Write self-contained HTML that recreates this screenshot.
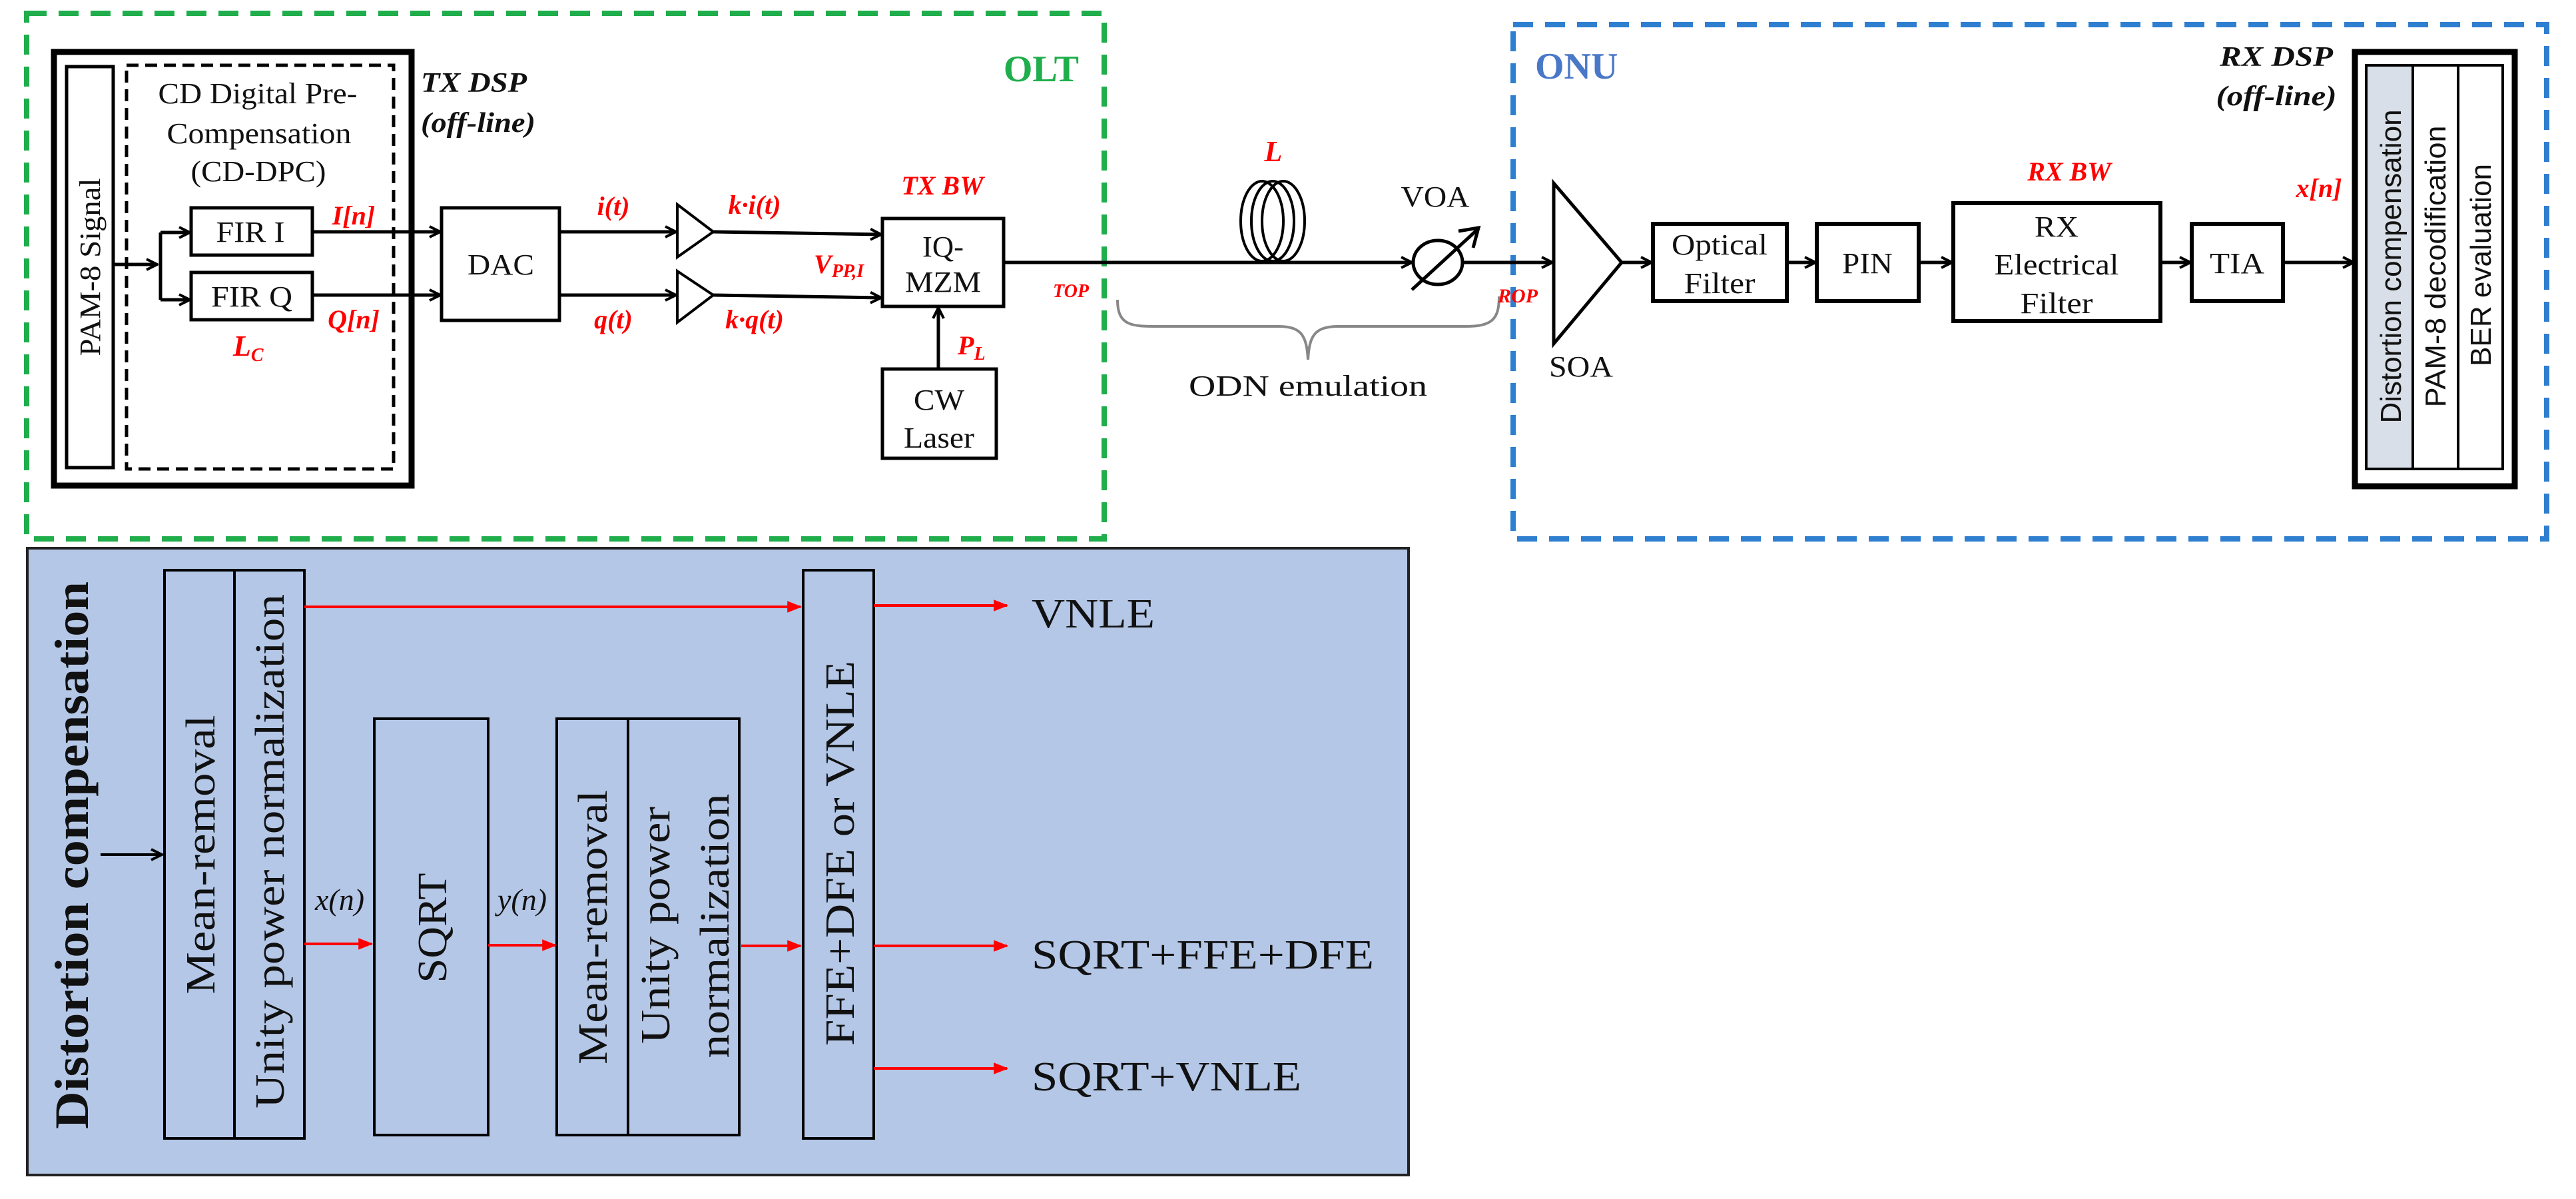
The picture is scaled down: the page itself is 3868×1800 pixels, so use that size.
<!DOCTYPE html>
<html><head><meta charset="utf-8"><style>
html,body{margin:0;padding:0;background:#fff}
svg{display:block}
.sf{font-family:"Liberation Serif",serif}
.ss{font-family:"Liberation Sans",sans-serif}
</style></head><body>
<svg width="3868" height="1800" viewBox="0 0 3868 1800" xmlns="http://www.w3.org/2000/svg">
<defs>
<marker id="ab" viewBox="0 0 20 20" refX="18" refY="10" markerWidth="20" markerHeight="20" markerUnits="userSpaceOnUse" orient="auto"><path d="M2,2 L18,10 L2,18" fill="none" stroke="#000" stroke-width="4"/></marker>
<marker id="ar" viewBox="0 0 20 20" refX="18" refY="10" markerWidth="22" markerHeight="22" markerUnits="userSpaceOnUse" orient="auto"><path d="M0,2 L20,10 L0,18 Z" fill="#f00"/></marker>
</defs>
<rect x="40" y="20" width="1618" height="789" fill="none" stroke="#1fae4b" stroke-width="8" stroke-dasharray="30,18"/>
<text class="sf" x="1620" y="122" font-size="56" font-weight="bold" fill="#1fae4b" text-anchor="end">OLT</text>
<rect x="2272" y="37" width="1552" height="772" fill="none" stroke="#2f7fd0" stroke-width="8" stroke-dasharray="30,18"/>
<text class="sf" x="2305" y="118" font-size="56" font-weight="bold" fill="#4a78c8">ONU</text>

<g stroke="#000" fill="none">
<rect x="81" y="78" width="537" height="651" stroke-width="9"/>
<rect x="100" y="100" width="70" height="602" stroke-width="5"/>
<rect x="190" y="98" width="401" height="606" stroke-width="5" stroke-dasharray="18,10"/>
<rect x="287" y="312" width="182" height="71" stroke-width="5"/>
<rect x="287" y="409" width="182" height="71" stroke-width="5"/>
<rect x="663" y="312" width="177" height="169" stroke-width="5"/>
<rect x="1325" y="328" width="182" height="132" stroke-width="5"/>
<rect x="1325" y="554" width="171" height="134" stroke-width="5"/>
<path d="M1017,307 L1071,348 L1017,386 Z" stroke-width="4"/>
<path d="M1017,407 L1071,443 L1017,484 Z" stroke-width="4"/>
<g stroke-width="5">
<line x1="170" y1="397" x2="236" y2="397" marker-end="url(#ab)"/>
<line x1="241" y1="349" x2="241" y2="450"/>
<line x1="241" y1="349" x2="285" y2="349" marker-end="url(#ab)"/>
<line x1="241" y1="450" x2="285" y2="450" marker-end="url(#ab)"/>
<line x1="469" y1="348" x2="661" y2="348" marker-end="url(#ab)"/>
<line x1="469" y1="443" x2="661" y2="443" marker-end="url(#ab)"/>
<line x1="840" y1="348" x2="1015" y2="348" marker-end="url(#ab)"/>
<line x1="840" y1="443" x2="1015" y2="443" marker-end="url(#ab)"/>
<line x1="1071" y1="348" x2="1323" y2="352" marker-end="url(#ab)"/>
<line x1="1071" y1="443" x2="1323" y2="447" marker-end="url(#ab)"/>
<line x1="1409" y1="554" x2="1409" y2="462" marker-end="url(#ab)"/>
<line x1="1507" y1="394" x2="2120" y2="394" marker-end="url(#ab)"/>
<line x1="2194" y1="394" x2="2331" y2="394" marker-end="url(#ab)"/>
<line x1="2435" y1="394" x2="2480" y2="394" marker-end="url(#ab)"/>
<line x1="2683" y1="394" x2="2726" y2="394" marker-end="url(#ab)"/>
<line x1="2881" y1="394" x2="2931" y2="394" marker-end="url(#ab)"/>
<line x1="3244" y1="394" x2="3289" y2="394" marker-end="url(#ab)"/>
<line x1="3428" y1="394" x2="3534" y2="394" marker-end="url(#ab)"/>
</g>
<g stroke-width="4">
<ellipse cx="1895" cy="332" rx="32" ry="60"/>
<ellipse cx="1911" cy="332" rx="32" ry="60"/>
<ellipse cx="1927" cy="332" rx="32" ry="60"/>
</g>
<ellipse cx="2159" cy="394" rx="37" ry="33" stroke-width="5"/>
<line x1="2120" y1="435" x2="2218" y2="345" stroke-width="5"/>
<path d="M2190,347 L2220,342 L2212,372" stroke-width="5"/>
<path d="M1678,450 C1678,490 1700,490 1740,490 L1920,490 C1955,490 1962,505 1964,540 C1966,505 1973,490 2010,490 L2200,490 C2240,490 2251,480 2251,445" stroke="#888" stroke-width="4"/>
<path d="M2333,275 L2435,394 L2333,516 Z" stroke-width="5"/>
<rect x="2482" y="336" width="201" height="116" stroke-width="6"/>
<rect x="2728" y="336" width="153" height="116" stroke-width="6"/>
<rect x="2933" y="305" width="311" height="177" stroke-width="6"/>
<rect x="3291" y="336" width="137" height="116" stroke-width="6"/>
<rect x="3536" y="78" width="240" height="652" stroke-width="9"/>
<rect x="3553" y="98" width="205" height="606" stroke-width="4"/>
<rect x="3555" y="100" width="68" height="602" fill="#d9dfe8" stroke="none"/>
<line x1="3623" y1="98" x2="3623" y2="704" stroke-width="4"/>
<line x1="3691" y1="98" x2="3691" y2="704" stroke-width="4"/>
</g>

<g font-size="44" fill="#111">
<text class="sf" transform="translate(150,401) rotate(-90)" text-anchor="middle" textLength="267" lengthAdjust="spacingAndGlyphs">PAM-8 Signal</text>
<text class="sf" x="387" y="155" text-anchor="middle" textLength="299" lengthAdjust="spacingAndGlyphs">CD Digital Pre-</text>
<text class="sf" x="389" y="215" text-anchor="middle" textLength="277" lengthAdjust="spacingAndGlyphs">Compensation</text>
<text class="sf" x="388" y="272" text-anchor="middle" textLength="203" lengthAdjust="spacingAndGlyphs">(CD-DPC)</text>
<text class="sf" x="376" y="363" text-anchor="middle" textLength="103" lengthAdjust="spacingAndGlyphs">FIR I</text>
<text class="sf" x="378" y="460" text-anchor="middle" textLength="122" lengthAdjust="spacingAndGlyphs">FIR Q</text>
<text class="sf" x="752" y="412" text-anchor="middle" textLength="100" lengthAdjust="spacingAndGlyphs">DAC</text>
<text class="sf" x="1416" y="385" text-anchor="middle" textLength="62" lengthAdjust="spacingAndGlyphs">IQ-</text>
<text class="sf" x="1416" y="438" text-anchor="middle" textLength="114" lengthAdjust="spacingAndGlyphs">MZM</text>
<text class="sf" x="1410" y="615" text-anchor="middle" textLength="76" lengthAdjust="spacingAndGlyphs">CW</text>
<text class="sf" x="1410" y="672" text-anchor="middle" textLength="106" lengthAdjust="spacingAndGlyphs">Laser</text>
<text class="sf" x="2155" y="310" text-anchor="middle" textLength="103" lengthAdjust="spacingAndGlyphs">VOA</text>
<text class="sf" x="1964" y="594" text-anchor="middle" textLength="358" lengthAdjust="spacingAndGlyphs">ODN emulation</text>
<text class="sf" x="2374" y="565" text-anchor="middle" textLength="96" lengthAdjust="spacingAndGlyphs">SOA</text>
<text class="sf" x="2582" y="382" text-anchor="middle" textLength="144" lengthAdjust="spacingAndGlyphs">Optical</text>
<text class="sf" x="2582" y="440" text-anchor="middle" textLength="107" lengthAdjust="spacingAndGlyphs">Filter</text>
<text class="sf" x="2804" y="410" text-anchor="middle" textLength="76" lengthAdjust="spacingAndGlyphs">PIN</text>
<text class="sf" x="3088" y="355" text-anchor="middle" textLength="66" lengthAdjust="spacingAndGlyphs">RX</text>
<text class="sf" x="3088" y="412" text-anchor="middle" textLength="187" lengthAdjust="spacingAndGlyphs">Electrical</text>
<text class="sf" x="3088" y="470" text-anchor="middle" textLength="109" lengthAdjust="spacingAndGlyphs">Filter</text>
<text class="sf" x="3359" y="410" text-anchor="middle" textLength="82" lengthAdjust="spacingAndGlyphs">TIA</text>
<text class="ss" transform="translate(3605,400) rotate(-90)" text-anchor="middle" textLength="471" lengthAdjust="spacingAndGlyphs">Distortion compensation</text>
<text class="ss" transform="translate(3672,400) rotate(-90)" text-anchor="middle" textLength="423" lengthAdjust="spacingAndGlyphs">PAM-8 decodification</text>
<text class="ss" transform="translate(3740,398) rotate(-90)" text-anchor="middle" textLength="304" lengthAdjust="spacingAndGlyphs">BER evaluation</text>
</g>
<g class="sf" font-size="42" font-style="italic" font-weight="bold" fill="#111">
<text x="632" y="138" textLength="159" lengthAdjust="spacingAndGlyphs">TX DSP</text>
<text x="632" y="198" textLength="172" lengthAdjust="spacingAndGlyphs">(off-line)</text>
<text x="3418" y="99" text-anchor="middle" textLength="170" lengthAdjust="spacingAndGlyphs">RX DSP</text>
<text x="3418" y="158" text-anchor="middle" textLength="181" lengthAdjust="spacingAndGlyphs">(off-line)</text>
</g>
<g class="sf" font-size="40" font-style="italic" font-weight="bold" fill="#f00">
<text x="531" y="337" text-anchor="middle">I[n]</text>
<text x="531" y="493" text-anchor="middle">Q[n]</text>
<text x="350" y="534" font-size="44">L<tspan font-size="28" dy="8">C</tspan></text>
<text x="921" y="323" text-anchor="middle">i(t)</text>
<text x="921" y="493" text-anchor="middle">q(t)</text>
<text x="1133" y="321" text-anchor="middle">k·i(t)</text>
<text x="1133" y="493" text-anchor="middle">k·q(t)</text>
<text x="1222" y="410">V<tspan font-size="28" dy="6">PP,I</tspan></text>
<text x="1415" y="292" text-anchor="middle">TX BW</text>
<text x="1608" y="446" text-anchor="middle" font-size="28">TOP</text>
<text x="1438" y="532">P<tspan font-size="28" dy="8">L</tspan></text>
<text x="1912" y="242" text-anchor="middle" font-size="44">L</text>
<text x="2279" y="454" text-anchor="middle" font-size="30">ROP</text>
<text x="3107" y="271" text-anchor="middle">RX BW</text>
<text x="3482" y="296" text-anchor="middle">x[n]</text>
</g>

<rect x="41" y="823" width="2074" height="941" fill="#b4c7e7" stroke="#222" stroke-width="4"/>
<g stroke="#000" fill="none" stroke-width="4">
<rect x="247" y="856" width="210" height="853"/>
<line x1="352" y1="856" x2="352" y2="1709"/>
<rect x="562" y="1079" width="171" height="625"/>
<rect x="836" y="1079" width="274" height="625"/>
<line x1="943" y1="1079" x2="943" y2="1704"/>
<rect x="1206" y="856" width="106" height="853"/>
<line x1="151" y1="1283" x2="243" y2="1283" marker-end="url(#ab)"/>
</g>
<g stroke="#f00" stroke-width="4" fill="none">
<line x1="457" y1="911" x2="1202" y2="911" marker-end="url(#ar)"/>
<line x1="457" y1="1417" x2="558" y2="1417" marker-end="url(#ar)"/>
<line x1="733" y1="1419" x2="834" y2="1419" marker-end="url(#ar)"/>
<line x1="1113" y1="1420" x2="1202" y2="1420" marker-end="url(#ar)"/>
<line x1="1312" y1="909" x2="1512" y2="909" marker-end="url(#ar)"/>
<line x1="1312" y1="1420" x2="1512" y2="1420" marker-end="url(#ar)"/>
<line x1="1312" y1="1604" x2="1512" y2="1604" marker-end="url(#ar)"/>
</g>
<g class="sf" font-size="62" fill="#111">
<text transform="translate(132,1284) rotate(-90)" text-anchor="middle" font-weight="bold" font-size="72" textLength="822" lengthAdjust="spacingAndGlyphs">Distortion compensation</text>
<text transform="translate(322,1283) rotate(-90)" text-anchor="middle" textLength="419" lengthAdjust="spacingAndGlyphs">Mean-removal</text>
<text transform="translate(426,1278) rotate(-90)" text-anchor="middle" textLength="772" lengthAdjust="spacingAndGlyphs">Unity power normalization</text>
<text transform="translate(670,1393) rotate(-90)" text-anchor="middle" textLength="165" lengthAdjust="spacingAndGlyphs">SQRT</text>
<text transform="translate(911,1392) rotate(-90)" text-anchor="middle" textLength="412" lengthAdjust="spacingAndGlyphs">Mean-removal</text>
<text transform="translate(1005,1389) rotate(-90)" text-anchor="middle" textLength="356" lengthAdjust="spacingAndGlyphs">Unity power</text>
<text transform="translate(1094,1390) rotate(-90)" text-anchor="middle" textLength="397" lengthAdjust="spacingAndGlyphs">normalization</text>
<text transform="translate(1282,1281) rotate(-90)" text-anchor="middle" textLength="578" lengthAdjust="spacingAndGlyphs">FFE+DFE or VNLE</text>
<text x="1549" y="942" textLength="185" lengthAdjust="spacingAndGlyphs">VNLE</text>
<text x="1549" y="1454" textLength="514" lengthAdjust="spacingAndGlyphs">SQRT+FFE+DFE</text>
<text x="1549" y="1637" textLength="405" lengthAdjust="spacingAndGlyphs">SQRT+VNLE</text>
<text x="510" y="1366" text-anchor="middle" font-size="46" font-style="italic">x(n)</text>
<text x="784" y="1366" text-anchor="middle" font-size="46" font-style="italic">y(n)</text>
</g>
</svg>
</body></html>
